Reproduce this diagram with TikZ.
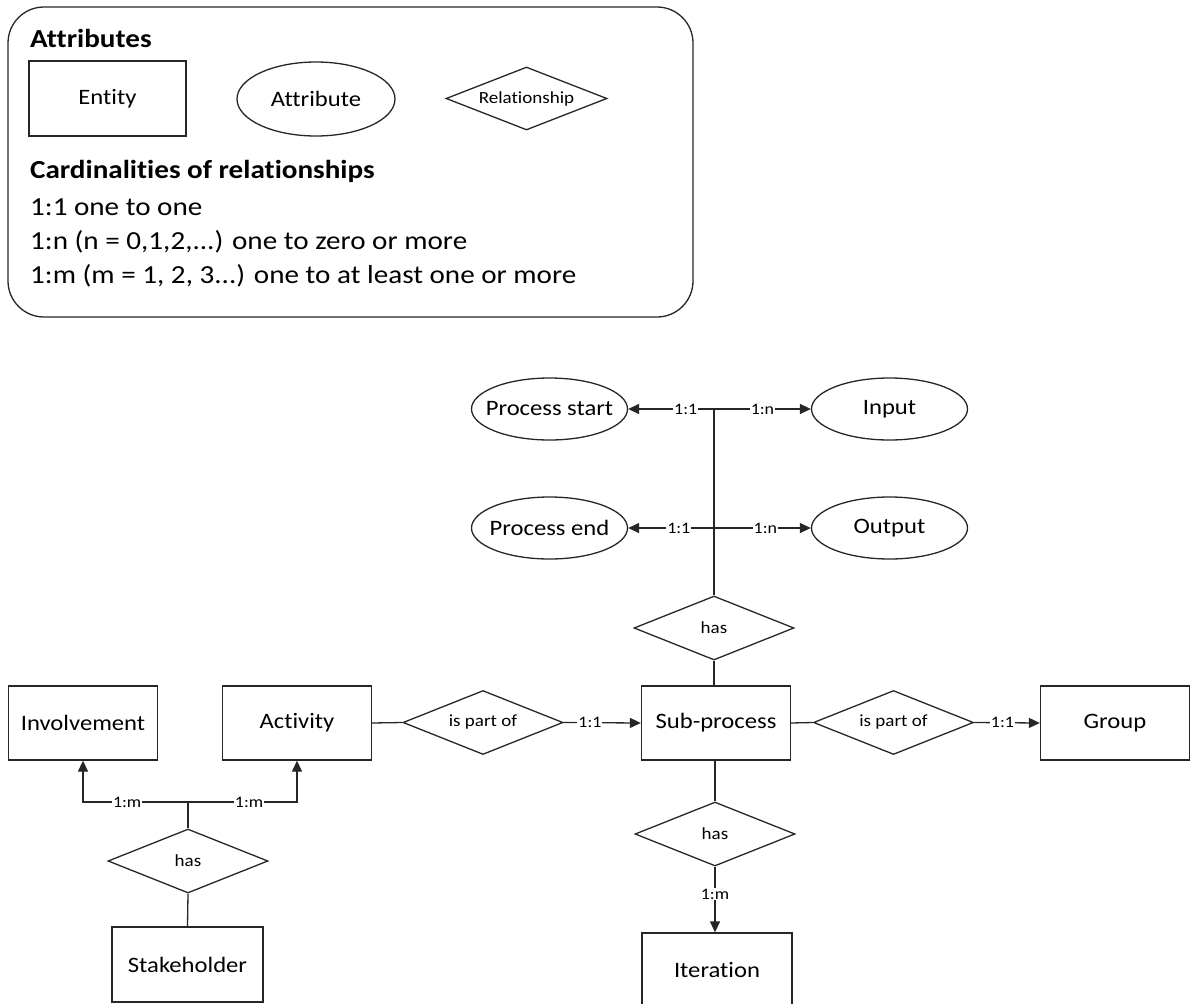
\documentclass[tikz,border=0pt]{standalone}
\usepackage{fontspec}
\setmainfont{Carlito}[FakeStretch=1.12, Ligatures=NoCommon]
\usetikzlibrary{shapes.geometric,arrows.meta}

% zero-width centred text, so the shape keeps its own minimum size
\newcommand{\zwtext}[1]{\makebox[0pt]{#1}}

\tikzset{
  every picture/.style={x=1pt,y=-1pt},
  ln/.style={line width=1.3pt, draw=black!85},
  arr/.style={ln, -{Triangle[length=11pt,width=10pt]}},
  entity/.style={ln, draw, rectangle, minimum width=149pt, minimum height=74pt, inner sep=0pt,
    font=\fontsize{22}{26}\selectfont},
  attr/.style={ln, draw, ellipse, minimum width=156pt, minimum height=62pt, inner sep=0pt,
    font=\fontsize{22}{26}\selectfont},
  rel/.style={ln, draw, diamond, aspect=2.5, minimum width=160pt, minimum height=64pt, inner sep=0pt,
    font=\fontsize{17}{20}\selectfont},
  lbl/.style={fill=white, inner sep=1pt, font=\fontsize{16}{18}\selectfont},
  legtitle/.style={anchor=west, inner sep=0pt, font=\fontsize{26}{30}\selectfont\bfseries},
  legline/.style={anchor=west, inner sep=0pt, font=\fontsize{26}{30}\selectfont},
}

\begin{document}
\begin{tikzpicture}
\useasboundingbox (0,0) rectangle (1192,1004);

% ---- legend ----
\node[ln, draw, rounded corners=36pt, minimum width=685pt, minimum height=310pt, inner sep=0pt]
  (legend) at (350.5,162) {};
\node[legtitle] (legA) at (30,38) {Attributes};
\node[entity, minimum width=157pt, minimum height=75pt] (legE) at (107.5,98.5) {Entity};
\node[attr, minimum width=158pt, minimum height=74pt] (legAt) at (316,99) {\zwtext{Attribute}};
\node[rel, minimum width=161pt, minimum height=63pt] (legR) at (526.5,98.5) {\zwtext{Relationship}};
\node[legtitle] (legC) at (30,171) {Cardinalities of relationships};
\node[legline] (legL1) at (30,207) {1:1 one to one};
\node[legline] (legL2) at (30,242) {1:n (n = 0,1,2,...) one to zero or more};
\node[legline] (legL3) at (30,276) {1:m (m = 1, 2, 3...) one to at least one or more};

% ---- attributes of a sub-process ----
\node[attr] (pstart) at (549.5,409) {\zwtext{Process start}};
\node[attr] (input)  at (889.5,409) {\zwtext{Input}};
\node[attr] (pend)   at (549.5,528) {\zwtext{Process end}};
\node[attr] (output) at (889.5,528) {\zwtext{Output}};

% ---- entities ----
\node[entity] (sub)   at (716,723) {Sub-process};
\node[entity] (act)   at (297,723) {Activity};
\node[entity] (inv)   at (83,723)  {Involvement};
\node[entity] (grp)   at (1115,723) {Group};
\node[entity, minimum width=150pt] (iter) at (717,970) {Iteration};
\node[entity, minimum width=151pt, minimum height=75pt] (stake) at (187.5,964.5) {Stakeholder};

% ---- relationships ----
\node[rel] (hasT) at (714,628) {\zwtext{has}};
\node[rel] (hasB) at (715,834) {\zwtext{has}};
\node[rel] (hasL) at (188,861) {\zwtext{has}};
\node[rel] (ispL) at (483,722.5) {\zwtext{is part of}};
\node[rel] (ispR) at (893.5,722.5) {\zwtext{is part of}};

% junctions
\coordinate (jt) at (714,409);
\coordinate (jb) at (714,528);
\coordinate (jl) at (188,802);

% ---- connectors ----
\draw[ln] (hasT.north) -- (jt);
\draw[arr] (jt) -- node[lbl, pos=0.33] {1:1} (pstart.east);
\draw[arr] (jt) -- node[lbl, pos=0.5]  {1:n} (input.west);
\draw[arr] (jb) -- node[lbl, pos=0.41] {1:1} (pend.east);
\draw[arr] (jb) -- node[lbl, pos=0.53] {1:n} (output.west);
\draw[ln] (hasT.south) -- (hasT.south |- sub.north);

\draw[ln] (act.east) -- (ispL.west);
\draw[arr] (ispL.east) -- node[lbl, pos=0.34] {1:1} (sub.west);
\draw[ln] (sub.east) -- (ispR.west);
\draw[arr] (ispR.east) -- node[lbl, pos=0.43] {1:1} (grp.west);

\draw[ln] (hasB.north |- sub.south) -- (hasB.north);
\draw[arr] (hasB.south) -- node[lbl, pos=0.42] {1:m} (hasB.south |- iter.north);

\draw[ln] (hasL.north) -- (jl);
\draw[arr] (jl) -| node[lbl, pos=0.29] {1:m} (inv.south);
\draw[arr] (jl) -| node[lbl, pos=0.28] {1:m} (act.south);
\draw[ln] (hasL.south) -- (stake.north);
\end{tikzpicture}
\end{document}
